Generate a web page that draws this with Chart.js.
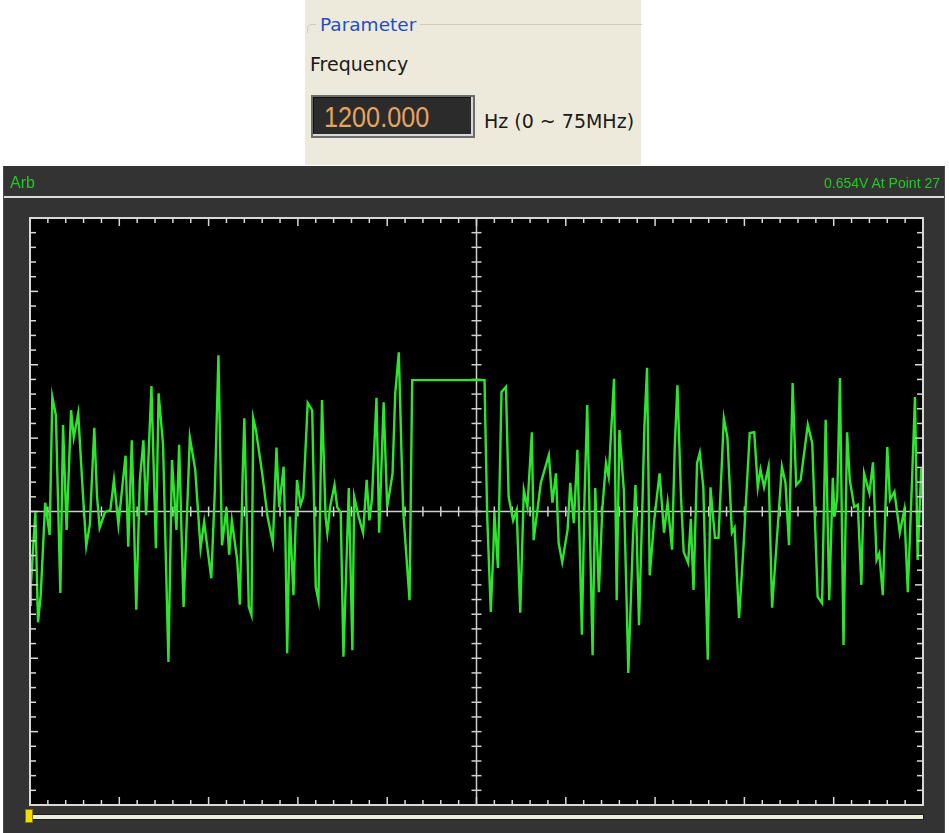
<!DOCTYPE html>
<html>
<head>
<meta charset="utf-8">
<script src="https://cdn.jsdelivr.net/npm/chart.js@4/dist/chart.umd.min.js"></script>
<style>
  html,body{margin:0;padding:0;background:#fff;width:949px;height:833px;overflow:hidden;}
  .abs{position:absolute;white-space:nowrap;line-height:1;}
  #param{left:305px;top:0;width:336px;height:165px;background:#EDEADC;}
  #grp{left:307px;top:24px;width:334px;height:8px;border-top:1px solid #CFCDBF;border-left:1px solid #CFCDBF;border-top-left-radius:5px;}
  #grpLabel{left:316px;top:16px;padding:0 4px;background:#EDEADC;font-family:"DejaVu Sans",sans-serif;font-size:18.5px;color:#1F4FC0;}
  #freqLabel{left:310px;top:55px;font-family:"DejaVu Sans",sans-serif;font-size:19px;color:#1a1a1a;}
  #inbox{left:311px;top:95px;width:160px;height:39px;background:#2b2b2b;border:2px solid #6c6c6c;box-shadow:inset -2px -2px 0 #d8d8d8, inset 1px 1px 0 #111;}
  #inText{left:324px;top:103px;font-family:"Liberation Sans",Arial,sans-serif;font-size:29px;color:#E6A45E;transform:scaleX(0.87);transform-origin:0 0;}
  #hz{left:484px;top:112px;font-family:"DejaVu Sans",sans-serif;font-size:19px;color:#1a1a1a;}
  #scope{left:3px;top:166px;}
  #arb{left:10px;top:175px;font-family:"Liberation Sans",Arial,sans-serif;font-size:16px;color:#22C822;}
  #readout{right:9px;top:176px;font-family:"Liberation Sans",Arial,sans-serif;font-size:14px;color:#22C822;}
</style>
</head>
<body>
<div class="abs" id="param"></div>
<div class="abs" id="grp"></div>
<div class="abs" id="grpLabel">Parameter</div>
<div class="abs" id="freqLabel">Frequency</div>
<div class="abs" id="inbox"></div>
<div class="abs" id="inText">1200.000</div>
<div class="abs" id="hz">Hz (0 ~ 75MHz)</div>
<canvas class="abs" id="scope" width="942" height="667"></canvas>
<div class="abs" id="arb">Arb</div>
<div class="abs" id="readout">0.654V At Point 27</div>
<script>
// ---- data ----
const channelName = "Arb";
const readoutText = "0.654V At Point 27";
// horizontal position of each vertex, 0..1000 across the screen
const pointIndex = [
 0,1,6,9,12,17,22,25,29,34,
 37,41,46,49,54,59,63,67,72,75,
 78,84,90,94,99,107,110,114,119,123,
 127,130,136,141,144,149,155,159,164,167,
 172,179,185,191,195,203,207,211,215,220,
 223,226,232,235,238,240,245,248,250,253,
 260,266,272,276,279,284,286,288,291,295,
 299,303,306,311,316,320,323,327,331,333,
 336,341,344,348,351,357,361,363,368,373,
 377,380,383,388,391,396,400,406,409,413,
 416,418,425,428,509,510,512,516,519,520,
 524,528,533,536,541,545,549,553,557,562,
 564,572,581,585,589,592,596,602,605,609,
 613,618,621,624,630,633,637,641,645,648,
 654,657,660,665,669,670,675,678,682,686,
 688,691,694,699,705,710,714,719,722,725,
 729,732,737,740,743,747,750,754,759,762,
 767,771,777,781,786,789,794,799,806,811,
 815,818,822,827,831,835,842,846,850,854,
 858,863,871,876,882,887,891,895,899,901,
 904,907,911,915,918,923,927,931,934,940,
 944,948,951,955,960,963,968,974,979,983,
 988,991,994,998,1000
];
// level in vertical divisions (screen is -4..+4)
const level = [
 -1.27,-1.00,-0.01,-1.51,-1.14,0.12,-0.32,1.56,1.31,-1.11,
 1.18,-0.25,1.38,1.01,1.34,0.29,-0.47,-0.18,1.14,0.22,
 -0.22,-0.01,0.02,0.43,-0.18,0.76,-0.48,0.97,-1.34,0.43,
 0.97,-0.05,1.71,-0.50,1.61,0.91,-2.05,0.70,-0.25,0.91,
 -1.30,1.01,0.57,-0.50,-0.14,-0.91,0.29,2.13,-0.46,0.05,
 -0.59,-0.12,-0.66,-1.27,0.43,1.27,-1.30,-1.41,1.27,1.11,
 0.52,-0.07,-0.43,0.87,0.06,0.61,-0.35,-1.93,-0.07,-1.14,
 0.43,0.09,0.20,1.48,1.38,-1.03,-1.21,1.52,-0.07,-0.29,
 0.06,0.36,0.06,-0.02,-1.98,0.32,-1.89,0.20,-0.07,-0.29,
 0.43,-0.12,0.18,1.55,-0.29,1.49,0.06,0.52,1.61,2.17,
 0.80,-0.01,-1.21,1.79,1.79,1.15,-0.07,-1.37,-0.48,-0.01,
 -0.77,1.63,1.70,0.20,-0.12,0.02,-1.38,0.29,0.06,1.08,
 -0.39,0.39,0.77,0.12,0.52,-0.43,-0.69,-0.25,0.39,-0.16,
 0.84,-1.68,0.20,1.45,-1.96,0.32,-1.10,0.06,0.66,0.47,
 1.81,-1.21,1.11,0.29,-1.66,-2.20,-0.43,0.36,-1.55,0.20,
 1.15,1.96,-0.87,-0.12,0.52,-0.29,0.12,-0.52,0.88,1.72,
 0.20,-0.55,-0.70,-0.10,-1.07,0.66,0.80,0.33,-2.02,0.33,
 -0.36,-0.36,1.27,1.01,-0.29,-0.22,-1.45,-0.48,1.07,1.08,
 0.33,0.57,0.33,0.61,-1.31,-0.62,0.61,0.39,-0.46,1.75,
 0.36,0.43,1.18,0.93,-1.16,-1.25,1.25,-1.21,0.46,-0.07,
 0.20,1.82,-1.82,1.08,0.43,0.06,0.09,-1.00,0.52,0.25,
 0.67,-0.66,-0.57,-1.14,0.88,0.16,0.27,-0.29,0.02,-1.10,
 0.52,1.56,-0.66,0.59,0.16
];
const xRange = [0, 1000];     // full screen width
const yRange = [-4, 4];       // 8 vertical divisions
const xDivisions = 10, xMinorPerDiv = 5;
const yDivisions = 8,  yMinorPerDiv = 5;

document.getElementById('arb').textContent = channelName;
document.getElementById('readout').textContent = readoutText;

const n = Math.min(pointIndex.length, level.length);
const points = [];
for (let i = 0; i < n; i++) points.push({x: pointIndex[i], y: level[i]});

function seg(ctx, x1, y1, x2, y2){ctx.beginPath();ctx.moveTo(x1,y1);ctx.lineTo(x2,y2);ctx.stroke();}

const scopePlugin = {
  id: 'scope',
  beforeDraw(chart){
    const {ctx, chartArea:a, width, height} = chart;
    const xs = chart.scales.x, ys = chart.scales.y;
    ctx.save();
    ctx.fillStyle = '#333333'; ctx.fillRect(0,0,width,height);
    ctx.fillStyle = '#4a4a4a'; ctx.fillRect(0,0,1,height); ctx.fillRect(width-1,0,1,height);
    ctx.fillStyle = '#dcdcdc'; ctx.fillRect(1,30,width-2,2);
    ctx.fillStyle = '#000'; ctx.fillRect(a.left,a.top,a.right-a.left,a.bottom-a.top);
    // centre crosshair
    const cx = xs.getPixelForValue((xRange[0]+xRange[1])/2);
    const cy = ys.getPixelForValue(0);
    ctx.strokeStyle = '#cfcfcf'; ctx.lineWidth = 1.5;
    seg(ctx, a.left, cy, a.right, cy);
    seg(ctx, cx, a.top, cx, a.bottom);
    const nx = xDivisions*xMinorPerDiv, ny = yDivisions*yMinorPerDiv;
    for (let i=1;i<nx;i++){
      const x = xs.getPixelForValue(xRange[0] + i*(xRange[1]-xRange[0])/nx);
      seg(ctx, x, cy-5, x, cy+5);
    }
    for (let j=1;j<ny;j++){
      const y = ys.getPixelForValue(yRange[0] + j*(yRange[1]-yRange[0])/ny);
      seg(ctx, cx-5, y, cx+5, y);
    }
    ctx.restore();
  },
  afterDraw(chart){
    const {ctx, chartArea:a} = chart;
    const xs = chart.scales.x, ys = chart.scales.y;
    ctx.save();
    ctx.strokeStyle = '#d8d8d8';
    ctx.lineWidth = 1.5;
    const nx = xDivisions*xMinorPerDiv, ny = yDivisions*yMinorPerDiv;
    for (let i=1;i<nx;i++){
      const x = xs.getPixelForValue(xRange[0] + i*(xRange[1]-xRange[0])/nx);
      const len = (i % xMinorPerDiv === 0) ? 8 : 5;
      seg(ctx, x, a.top, x, a.top+len);
      seg(ctx, x, a.bottom, x, a.bottom-len);
    }
    for (let j=1;j<ny;j++){
      const y = ys.getPixelForValue(yRange[0] + j*(yRange[1]-yRange[0])/ny);
      const len = (j % yMinorPerDiv === 0) ? 8 : 6;
      seg(ctx, a.left, y, a.left+len, y);
      seg(ctx, a.right, y, a.right-len, y);
    }
    ctx.lineWidth = 2;
    ctx.strokeRect(a.left, a.top, a.right-a.left, a.bottom-a.top);
    // position slider under the screen
    const sy = a.bottom + 10;
    ctx.fillStyle = '#1e1e1e'; ctx.fillRect(a.left, sy-1, a.right-a.left+1, 6);
    ctx.fillStyle = '#EEEEDC'; ctx.fillRect(a.left, sy, a.right-a.left, 4);
    const hx = xs.getPixelForValue(xRange[0]);
    ctx.fillStyle = '#F2DE00'; ctx.fillRect(hx-4, sy-5, 7, 13);
    ctx.strokeStyle = '#8a7a00'; ctx.lineWidth = 1; ctx.strokeRect(hx-4.5, sy-5.5, 7, 13);
    ctx.restore();
  }
};

new Chart(document.getElementById('scope'), {
  type: 'line',
  data: { datasets: [{
    data: points,
    borderColor: '#2BE62B',
    borderWidth: 2.4,
    pointRadius: 0,
    tension: 0,
    fill: false
  }]},
  options: {
    responsive: false,
    animation: false,
    parsing: true,
    layout: { padding: { left: 27, top: 52, right: 22, bottom: 28 } },
    plugins: { legend: { display: false }, tooltip: { enabled: false }, title: { display: false } },
    scales: {
      x: { type: 'linear', min: xRange[0], max: xRange[1], display: false },
      y: { type: 'linear', min: yRange[0], max: yRange[1], display: false }
    }
  },
  plugins: [scopePlugin]
});
</script>
</body>
</html>
